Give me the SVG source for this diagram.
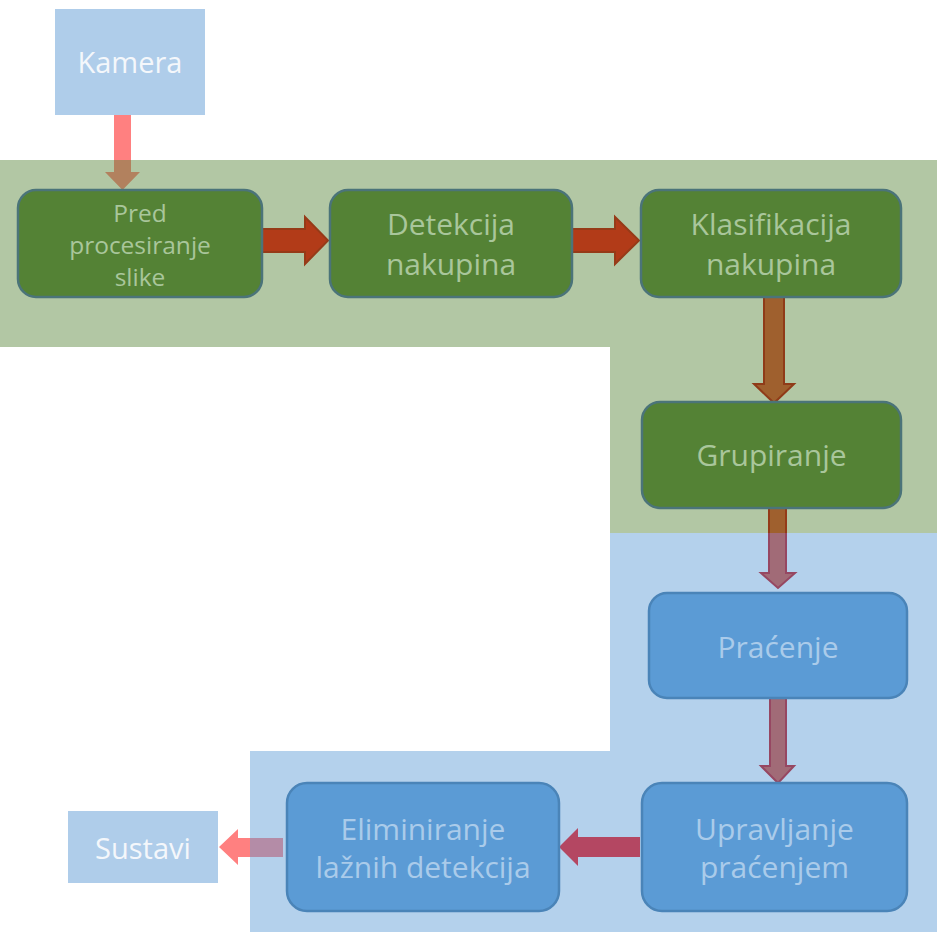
<svg xmlns="http://www.w3.org/2000/svg" width="937" height="932" viewBox="0 0 937 932">
  <style>
    text { font-family: "Open Sans", "Noto Sans", "Liberation Sans", sans-serif; text-anchor: middle; }
    .g-box { fill: #548235; stroke: #4b7479; stroke-width: 2.5; }
    .b-box { fill: #5b9bd5; stroke: #4a84b8; stroke-width: 2.5; }
    .io-box { fill: #afcdea; }
    .g-txt { fill: #a9c69b; font-size: 30px; }
    .g-txt-s { fill: #a9c69b; font-size: 24.5px; }
    .b-txt { fill: #aacbea; font-size: 30px; }
    .io-txt { fill: #f4f7fb; font-size: 29px; }
    .zone-g { fill: #548235; opacity: 0.45; }
    .zone-b { fill: #5b9bd5; opacity: 0.46; }
  </style>

  <!-- connectors: block arrows, drawn beneath the translucent stage zones -->
  <g id="connectors">
    <polygon id="c-kamera-pred" fill="#ff8080" points="114,115 131,115 131,172 140,172 122.5,190 105,172 114,172"/>
    <polygon id="c-pred-det" fill="#ff0000" stroke="#cc0000" stroke-width="2" points="262,229 305,229 305,217 328,240.5 305,264 305,252 262,252"/>
    <polygon id="c-det-klas" fill="#ff0000" stroke="#cc0000" stroke-width="2" points="572,229 615,229 615,217 639,240.5 615,264 615,252 572,252"/>
    <polygon id="c-klas-grup" fill="#dc4428" stroke="#c00000" stroke-width="2" points="764,297 784,297 784,384 794,384 774,403 754,384 764,384"/>
    <polygon id="c-grup-prac" fill="#dc4428" stroke="#c80000" stroke-width="2" points="769,508 786,508 786,573 795,573 778,588 761,573 769,573"/>
    <polygon id="c-prac-upr" fill="#dc4428" stroke="#c80000" stroke-width="2" points="770,698 786,698 786,766 794,766 778,783 761,766 770,766"/>
    <polygon id="c-upr-elim" fill="#ff0000" points="640,837 640,857 578,857 578,866 559,847 578,828 578,837"/>
    <polygon id="c-elim-sust" fill="#ff8080" points="283,838 283,857 238,857 238,865 219,847 238,829 238,838"/>
  </g>

  <!-- stage zones -->
  <g id="zone-detection">
    <path class="zone-g" d="M0,160 H937 V533 H610 V347 H0 Z"/>
  </g>
  <g id="zone-tracking">
    <path class="zone-b" d="M610,533 H937 V932 H250 V751 H610 Z"/>
  </g>

  <g id="kamera">
    <rect class="io-box" x="55" y="9" width="150" height="106"/>
    <text class="io-txt" x="130" y="73">Kamera</text>
  </g>

  <g id="pred">
    <rect class="g-box" x="18" y="190" width="244" height="107" rx="18"/>
    <text class="g-txt-s" x="140" y="222">Pred</text>
    <text class="g-txt-s" x="140" y="254">procesiranje</text>
    <text class="g-txt-s" x="140" y="286">slike</text>
  </g>

  <g id="detekcija">
    <rect class="g-box" x="330" y="190" width="242" height="107" rx="18"/>
    <text class="g-txt" x="451" y="235">Detekcija</text>
    <text class="g-txt" x="451" y="275">nakupina</text>
  </g>

  <g id="klasifikacija">
    <rect class="g-box" x="641" y="190" width="260" height="107" rx="18"/>
    <text class="g-txt" x="771" y="235">Klasifikacija</text>
    <text class="g-txt" x="771" y="275">nakupina</text>
  </g>

  <g id="grupiranje">
    <rect class="g-box" x="642" y="402" width="259" height="106" rx="18"/>
    <text class="g-txt" x="771.5" y="466">Grupiranje</text>
  </g>

  <g id="pracenje">
    <rect class="b-box" x="649" y="593" width="258" height="105" rx="18"/>
    <text class="b-txt" x="778" y="658">Praćenje</text>
  </g>

  <g id="upravljanje">
    <rect class="b-box" x="642" y="783" width="265" height="128" rx="20"/>
    <text class="b-txt" x="774.5" y="840">Upravljanje</text>
    <text class="b-txt" x="774.5" y="878">praćenjem</text>
  </g>

  <g id="eliminiranje">
    <rect class="b-box" x="287" y="783" width="272" height="128" rx="20"/>
    <text class="b-txt" x="423" y="840">Eliminiranje</text>
    <text class="b-txt" x="423" y="878">lažnih detekcija</text>
  </g>

  <g id="sustavi">
    <rect class="io-box" x="68" y="811" width="150" height="72"/>
    <text class="io-txt" x="143" y="859">Sustavi</text>
  </g>
</svg>
